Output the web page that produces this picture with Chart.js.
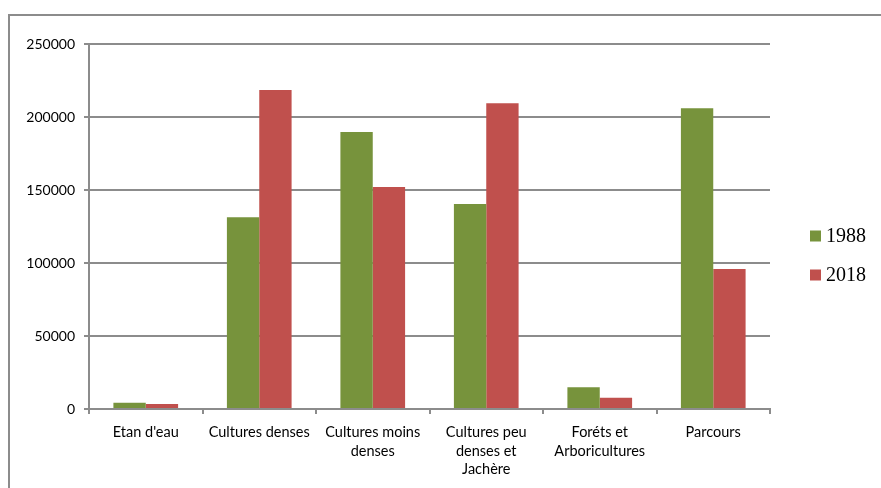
<!DOCTYPE html>
<html>
<head>
<meta charset="utf-8">
<script src="https://cdn.jsdelivr.net/npm/chart.js@4"></script>
<style>
    html, body { margin: 0; padding: 0; background: #fff; overflow: hidden; }
    #frame {
        position: absolute; left: 8px; top: 14px; width: 1000px; height: 600px;
        border-left: 2px solid #8c8c8c; border-top: 2px solid #8c8c8c;
    }
    #myChart { position: absolute; left: 0; top: 0; }
</style>
</head>
<body>
<div id="frame"></div>
<canvas id="myChart" width="881" height="488"></canvas>
<script>
const categories = [
    "Etan d'eau",
    "Cultures denses",
    ["Cultures moins", "denses"],
    ["Cultures peu", "denses et", "Jachère"],
    ["Foréts et", "Arboricultures"],
    "Parcours"
];
const values1988 = [4300, 131300, 189800, 140400, 14900, 206000];
const values2018 = [3400, 218500, 152000, 209500, 7700, 95900];
const yTicks = [0, 50000, 100000, 150000, 200000, 250000];

const gridColor = "#8c8c8c";

// legend drawn at the right of the plot, like the original
const sideLegend = {
    id: "sideLegend",
    afterDraw(chart) {
        const ctx = chart.ctx;
        const area = chart.chartArea;
        ctx.save();
        ctx.font = "20px 'Liberation Serif', 'Times New Roman', serif";
        ctx.textBaseline = "middle";
        ctx.textAlign = "left";
        chart.data.datasets.forEach(function(ds, i) {
            const x = area.right + 40;
            const y = area.top + 192 + i * 39;
            ctx.fillStyle = ds.backgroundColor;
            ctx.fillRect(x, y - 5.5, 11, 11);
            ctx.fillStyle = "#000";
            ctx.fillText(ds.label, x + 16, y + 1);
        });
        ctx.restore();
    }
};

const ctx = document.getElementById("myChart");
const myChart = new Chart(ctx, {
    type: "bar",
    data: {
        labels: categories,
        datasets: [{
            label: "1988",
            data: values1988,
            backgroundColor: "#77933C"
        }, {
            label: "2018",
            data: values2018,
            backgroundColor: "#C0504D"
        }]
    },
    options: {
        responsive: false,
        animation: false,
        categoryPercentage: 0.57,
        barPercentage: 1.0,
        layout: { padding: { left: 0, top: 44, right: 111, bottom: 0 } },
        plugins: {
            legend: { display: false },
            tooltip: { enabled: false }
        },
        scales: {
            x: {
                offset: true,
                grid: {
                    offset: true,
                    drawOnChartArea: false,
                    drawTicks: true,
                    tickLength: 5,
                    color: gridColor,
                    lineWidth: 2
                },
                border: { color: gridColor, width: 2 },
                ticks: {
                    color: "#000",
                    padding: 9,
                    maxRotation: 0,
                    autoSkip: false,
                    font: { family: "Lato, 'DejaVu Sans', sans-serif", size: 14.5, lineHeight: 1.28 }
                },
                afterFit: function(scale) { scale.height = 79; }
            },
            y: {
                min: 0,
                max: 250000,
                afterBuildTicks: function(scale) {
                    scale.ticks = yTicks.map(function(v) { return { value: v }; });
                },
                grid: {
                    color: gridColor,
                    lineWidth: 2,
                    tickLength: 5
                },
                border: { color: gridColor, width: 2 },
                ticks: {
                    color: "#000",
                    padding: 9,
                    font: { family: "Lato, 'DejaVu Sans', sans-serif", size: 14 },
                    callback: function(v) { return String(v); }
                },
                afterFit: function(scale) { scale.width = 89; }
            }
        }
    },
    plugins: [sideLegend]
});
</script>
</body>
</html>
